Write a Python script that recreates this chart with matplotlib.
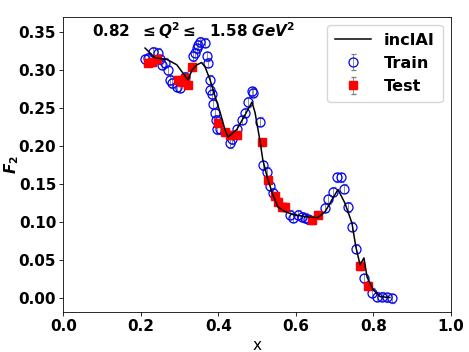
import matplotlib
matplotlib.use("Agg")
import matplotlib.pyplot as plt
import numpy as np

train_x = [0.211, 0.219, 0.232, 0.244, 0.250, 0.255, 0.263, 0.271, 0.276, 0.281, 0.293, 0.301,
           0.314, 0.335, 0.340, 0.345, 0.348, 0.353, 0.366, 0.371, 0.374, 0.379, 0.379, 0.384,
           0.386, 0.392, 0.394, 0.397, 0.405, 0.430, 0.435, 0.448, 0.461, 0.469, 0.477, 0.487,
           0.490, 0.508, 0.515, 0.526, 0.534, 0.541, 0.585, 0.593, 0.606, 0.616, 0.624, 0.632,
           0.676, 0.683, 0.696, 0.706, 0.717, 0.724, 0.735, 0.745, 0.755, 0.776, 0.797, 0.810,
           0.823, 0.836, 0.848]
train_y = [0.314, 0.316, 0.324, 0.323, 0.314, 0.307, 0.310, 0.300, 0.287, 0.283, 0.278, 0.277,
           0.291, 0.318, 0.323, 0.329, 0.333, 0.337, 0.336, 0.318, 0.310, 0.287, 0.274, 0.268,
           0.255, 0.244, 0.235, 0.222, 0.222, 0.204, 0.209, 0.222, 0.235, 0.244, 0.258, 0.272,
           0.270, 0.232, 0.175, 0.166, 0.147, 0.139, 0.110, 0.106, 0.110, 0.107, 0.106, 0.104,
           0.119, 0.130, 0.140, 0.159, 0.159, 0.144, 0.120, 0.094, 0.065, 0.026, 0.007, 0.002,
           0.002, 0.001, 0.000]
train_err = [0.006] * len(train_x)

test_x = [0.219, 0.229, 0.242, 0.296, 0.306, 0.314, 0.322, 0.332, 0.400, 0.417, 0.430, 0.448,
          0.513, 0.528, 0.546, 0.554, 0.565, 0.572, 0.642, 0.657, 0.766, 0.787]
test_y = [0.310, 0.311, 0.314, 0.287, 0.285, 0.290, 0.281, 0.304, 0.231, 0.218, 0.215, 0.215,
          0.205, 0.156, 0.135, 0.127, 0.120, 0.120, 0.103, 0.110, 0.042, 0.016]
test_err = [0.005] * len(test_x)

line_x = [0.211, 0.237, 0.268, 0.293, 0.309, 0.322, 0.332, 0.345, 0.357, 0.366, 0.379, 0.392,
          0.405, 0.417, 0.425, 0.448, 0.469, 0.487, 0.495, 0.508, 0.515, 0.528, 0.541, 0.554,
          0.572, 0.593, 0.629, 0.657, 0.676, 0.694, 0.709, 0.727, 0.745, 0.755, 0.766, 0.776,
          0.784, 0.800, 0.818, 0.843]
line_y = [0.329, 0.316, 0.314, 0.307, 0.296, 0.287, 0.300, 0.307, 0.310, 0.304, 0.287, 0.265,
          0.244, 0.222, 0.212, 0.222, 0.241, 0.258, 0.244, 0.206, 0.182, 0.156, 0.136, 0.120,
          0.114, 0.110, 0.107, 0.106, 0.114, 0.130, 0.143, 0.125, 0.099, 0.068, 0.044, 0.053,
          0.028, 0.011, 0.002, 0.001]

plt.rcParams['mathtext.fontset'] = 'dejavusans'
FS = 11
K = 73.3 / 100.0  # original rendering scale

fig = plt.figure(figsize=(4.69, 3.52), dpi=100)
ax = fig.add_axes([0.135, 0.113, 0.826, 0.839])

ax.plot(line_x, line_y, color='black', lw=1.5 * K, label='inclAI', zorder=3)
ax.errorbar(train_x, train_y, yerr=train_err, fmt='o', mfc='none', mec='blue', mew=0.9,
            ms=6.5, ecolor='gray', elinewidth=0.6, capsize=1.8, label='Train', zorder=2)
ax.errorbar(test_x, test_y, yerr=test_err, fmt='s', color='red', mec='red',
            ms=6, ecolor='gray', elinewidth=0.6, capsize=1.8, label='Test', zorder=2)

ax.set_xlim(0, 1.0)
ax.set_ylim(-0.0184, 0.370)
ax.set_xticks([0.0, 0.2, 0.4, 0.6, 0.8, 1.0])
ax.set_yticks([0.0, 0.05, 0.10, 0.15, 0.20, 0.25, 0.30, 0.35])
ax.set_yticklabels(['0.00', '0.05', '0.10', '0.15', '0.20', '0.25', '0.30', '0.35'])
ax.tick_params(length=3.5 * K, width=0.8 * K, pad=3.5 * K)
for lab in ax.get_xticklabels() + ax.get_yticklabels():
    lab.set_fontweight('bold')
    lab.set_fontsize(FS)
for s in ax.spines.values():
    s.set_linewidth(0.8 * K)

ax.set_xlabel('x', fontsize=FS, labelpad=4 * K)
ax.set_ylabel(r'$\mathbfit{F}_{\mathbf{2}}$', fontsize=FS)
ax.yaxis.set_label_coords(-0.108, 0.5)

ax.text(0.336, 0.953, r'0.82  $\mathbf{\leq}\mathbfit{Q}^{\mathbf{2}}\mathbf{\leq}$  1.58 $\mathbfit{GeV}^{\mathbf{2}}$',
        transform=ax.transAxes, ha='center', va='center', fontsize=FS, fontweight='bold')

leg = ax.legend(loc='upper right', prop={'weight': 'bold', 'size': 11.6},
                handlelength=2.2, borderpad=0.5)

fig.savefig('out.png', dpi=100)
